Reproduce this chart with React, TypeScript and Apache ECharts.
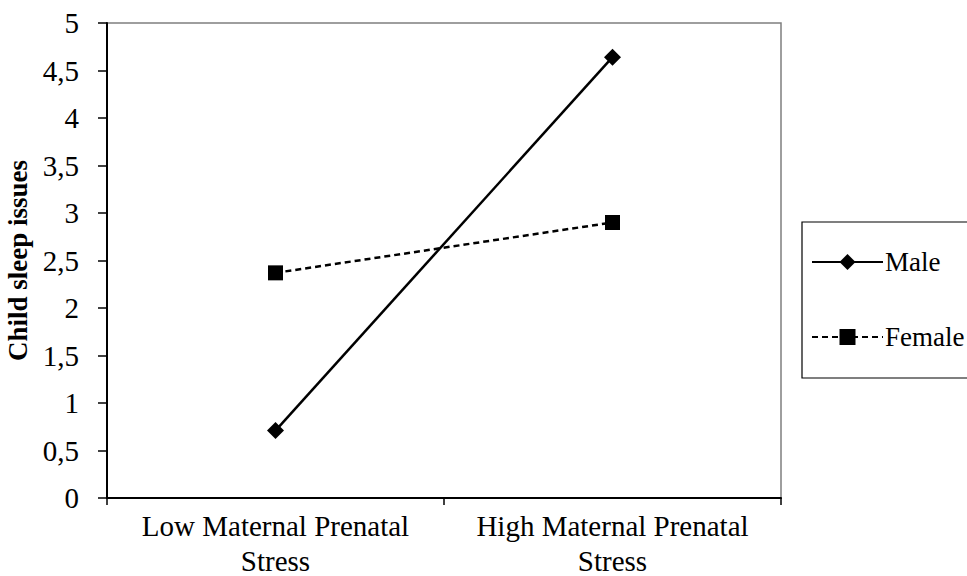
import React, { useEffect, useRef } from "react";
import * as echarts from "echarts";

const categories = ["Low Maternal Prenatal\nStress", "High Maternal Prenatal\nStress"];
const maleValues = [0.71, 4.64];
const femaleValues = [2.37, 2.9];
const yTicks = { min: 0, max: 5, interval: 0.5 };

const FONT = "'Times New Roman', 'Liberation Serif', serif";

export default function App() {
  const ref = useRef<HTMLDivElement>(null);
  useEffect(() => {
    if (!ref.current) return;
    const chart = echarts.init(ref.current, null, { renderer: "svg" });
    chart.setOption({
      animation: false,
      backgroundColor: "#ffffff",
      textStyle: { fontFamily: FONT, color: "#000" },
      grid: {
        left: 107,
        right: 186,
        top: 23,
        bottom: 78,
        containLabel: false,
        outerBoundsMode: "none",
        show: true,
        borderColor: "#7f7f7f",
        borderWidth: 1.5,
      },
      legend: {
        orient: "vertical",
        left: 802,
        top: 222,
        padding: [25, 60, 26, 9],
        itemWidth: 71,
        itemHeight: 20,
        itemGap: 45,
        borderColor: "#000",
        borderWidth: 1.2,
        textStyle: { fontFamily: FONT, fontSize: 27, color: "#000", lineHeight: 30, padding: [0, 0, 0, -3] },
        data: ["Male", "Female"],
      },
      xAxis: {
        type: "category",
        data: categories,
        boundaryGap: true,
        axisLine: { show: true, lineStyle: { color: "#000", width: 2 } },
        axisTick: { show: true, length: 7, lineStyle: { color: "#000", width: 1.5 } },
        axisLabel: {
          fontFamily: FONT,
          fontSize: 29,
          color: "#000",
          lineHeight: 35,
          margin: 10,
          interval: 0,
        },
      },
      yAxis: {
        type: "value",
        min: yTicks.min,
        max: yTicks.max,
        interval: yTicks.interval,
        name: "Child sleep issues",
        nameLocation: "middle",
        nameGap: 70,
        nameRotate: 90,
        nameTextStyle: { fontFamily: FONT, fontSize: 27, fontWeight: "bold", color: "#000" },
        splitLine: { show: false },
        axisLine: { show: true, lineStyle: { color: "#000", width: 2 } },
        axisTick: { show: true, length: 9, lineStyle: { color: "#000", width: 1.5 } },
        axisLabel: {
          fontFamily: FONT,
          fontSize: 29,
          color: "#000",
          margin: 28,
          formatter: (v: number) => String(v).replace(".", ","),
        },
      },
      series: [
        {
          name: "Male",
          type: "line",
          data: maleValues,
          symbol: "diamond",
          symbolSize: 17,
          lineStyle: { color: "#000", width: 2.5, type: "solid" },
          itemStyle: { color: "#000" },
        },
        {
          name: "Female",
          type: "line",
          data: femaleValues,
          symbol: "rect",
          symbolSize: 15,
          lineStyle: { color: "#000", width: 2.5, type: [6, 4] },
          itemStyle: { color: "#000" },
        },
      ],
    });
    return () => chart.dispose();
  }, []);
  return <div ref={ref} style={{ width: 967, height: 576, position: "absolute", left: 0, top: 0 }} />;
}
